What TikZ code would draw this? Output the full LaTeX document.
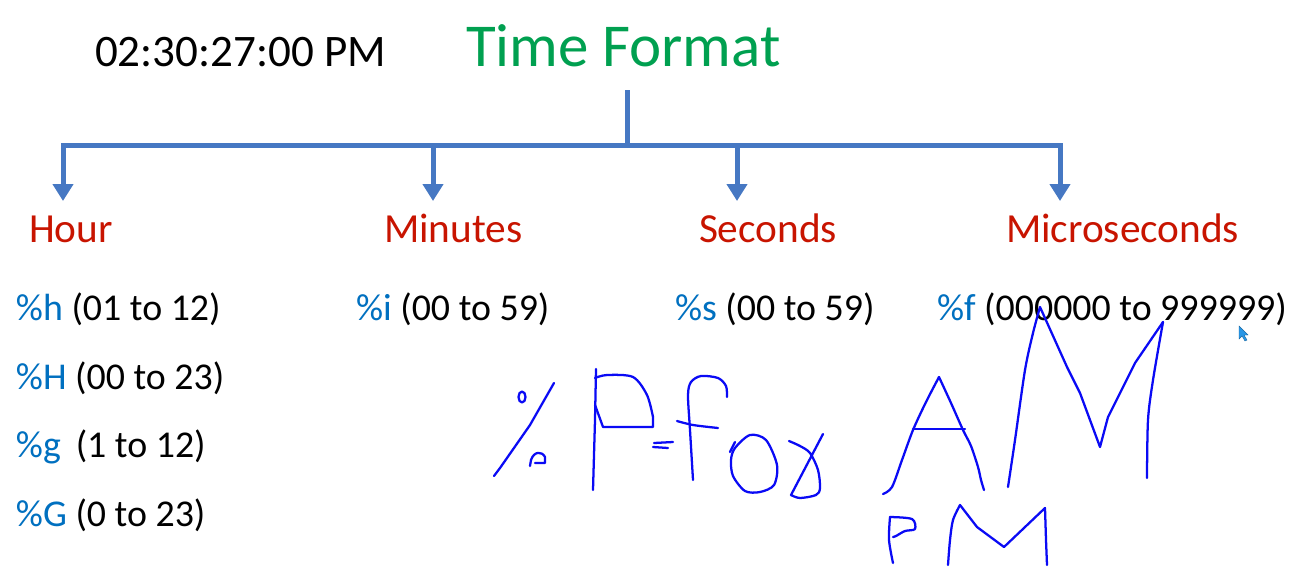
\documentclass[tikz,border=0pt]{standalone}
\usepackage{fontspec}
\setmainfont{Carlito}
\usetikzlibrary{arrows.meta}
\definecolor{treeblue}{RGB}{70,120,195}
\definecolor{titlegreen}{RGB}{0,160,80}
\definecolor{labelred}{RGB}{200,20,0}
\definecolor{codeblue}{RGB}{0,112,192}
\definecolor{inkblue}{RGB}{10,10,245}
\definecolor{cursorblue}{RGB}{40,150,230}
\begin{document}
\begin{tikzpicture}[x=0.75pt,y=-0.75pt,
  txt/.style={anchor=base west,inner sep=0pt,outer sep=0pt},
  timestyle/.style={txt,font=\fontsize{33.8}{36}\selectfont,text=black},
  titlestyle/.style={txt,font=\fontsize{45.7}{50}\selectfont,text=titlegreen},
  labelstyle/.style={txt,font=\fontsize{31}{34}\selectfont,text=labelred},
  itemstyle/.style={txt,font=\fontsize{28.4}{31}\selectfont,text=black},
  tree/.style={draw=treeblue,line width=3.75pt},
  tip/.style={-{Triangle[length=12.75pt,width=15pt]}},
  ink/.style={draw=inkblue,line width=1.7pt,line cap=round,line join=round}]
\useasboundingbox (0,0) rectangle (1292,569);
\fill[white] (0,0) rectangle (1292,569);

% texts
\node[timestyle] (time) at (95,66) {02:30:27:00 PM};
\node[titlestyle] (title) at (466,66) {Time Format};

\node[labelstyle] (hour) at (29,242) {Hour};
\node[labelstyle] (minutes) at (384,242) {Minutes};
\node[labelstyle] (seconds) at (699,242) {Seconds};
\node[labelstyle] (micro) at (1006,242) {Microseconds};

\node[itemstyle] (h1) at (16,320) {\textcolor{codeblue}{\%h} (01 to 12)};
\node[itemstyle] (h2) at (16,389) {\textcolor{codeblue}{\%H} (00 to 23)};
\node[itemstyle] (h3) at (16,457) {\textcolor{codeblue}{\%g} \,(1 to 12)};
\node[itemstyle] (h4) at (16,526) {\textcolor{codeblue}{\%G} (0 to 23)};
\node[itemstyle] (m1) at (356,320) {\textcolor{codeblue}{\%i} (00 to 59)};
\node[itemstyle] (s1) at (675,320) {\textcolor{codeblue}{\%s} (00 to 59)};
\node[itemstyle] (f1) at (937,320) {\textcolor{codeblue}{\%f} (000000 to 999999)};

% tree connectors
\coordinate (top) at (627,90);
\coordinate (junc) at (627,145);
\coordinate (a1) at (63,201);
\coordinate (b2) at (433,145);
\coordinate (a2) at (433,201);
\coordinate (b3) at (737,145);
\coordinate (a3) at (737,201);
\coordinate (a4) at (1060,201);
\draw[tree] (top) -- (junc);
\draw[tree,{Triangle[length=12.75pt,width=15pt]}-{Triangle[length=12.75pt,width=15pt]}] (a1) |- (junc) -| (a4);
\draw[tree,tip] (b2) -- (a2);
\draw[tree,tip] (b3) -- (a3);

% handwriting: %P=fox
\draw[ink] (494,476) -- (500,468) -- (530,425) -- (554,383);
\draw[ink] (522,397) ellipse (3.5 and 5.5);
\draw[ink] (530,466) -- (531,460) .. controls (534,451) and (542,451) .. (545,457) -- (545,463) -- (535,463);
\draw[ink] (596,369) -- (595,420) -- (593,490);
\draw[ink] plot[smooth] coordinates {(595,378) (607,375) (633,377) (647,395) (653,417)} -- (653,427) -- (603,427) -- (595,405);
\draw[ink] (654,443) -- (673,442);
\draw[ink] (653,447) -- (668,448);
\draw[ink] plot[smooth] coordinates {(693,480) (690,430) (688,395) (691,382) (701,376) (718,378) (726,386) (727,397)};
\draw[ink] plot[smooth] coordinates {(677,421) (693,425) (718,428)};
\draw[ink] plot[smooth cycle] coordinates {(735,448) (750,435) (766,440) (777,465) (774,485) (760,492) (745,491) (733,476) (731,460)};
\draw[ink] (730,452) -- (735,442);
\draw[ink] plot[smooth] coordinates {(789,441) (800,446) (810,453) (818,470) (820,488) (816,495) (800,498) (791,495)} -- (823,434);

% handwriting: AM
\draw[ink] plot[smooth] coordinates {(883,494) (892,487) (902,460) (913,430) (926,402) (939,377)};
\draw[ink] plot[smooth] coordinates {(939,377) (951,403) (963,430) (971,446) (978,467) (981,480) (984,490)};
\draw[ink] (913,429) -- (965,429);
\draw[ink] plot[smooth] coordinates {(1008,487) (1015,440) (1025,370) (1033,333) (1040,307)} -- (1067,367) -- (1080,393) -- (1100,447) -- (1108,417) -- (1135,363) -- (1163,322);
\draw[ink] plot[smooth] coordinates {(1163,322) (1153,380) (1148,420) (1147,478)};

% handwriting: PM
\draw[ink] plot[smooth] coordinates {(890,517) (889,540) (893,563)};
\draw[ink] plot[smooth] coordinates {(890,517) (912,519) (915,529) (905,531) (896,536) (893,537)};
\draw[ink] plot[smooth] coordinates {(948,565) (950,540) (953,520) (960,505)} -- (977,527) -- (1004,547) -- (1045,508);
\draw[ink] (1045,508) -- (1046,540) -- (1047,565);

% mouse cursor
\coordinate (cur) at (1239,326);
\fill[cursorblue,draw=cursorblue!70!black,line width=0.3pt] (cur) -- ++(0,13) -- ++(3,-3) -- ++(3,5) -- ++(2,-1) -- ++(-3,-5) -- ++(4,0) -- cycle;
\end{tikzpicture}
\end{document}
